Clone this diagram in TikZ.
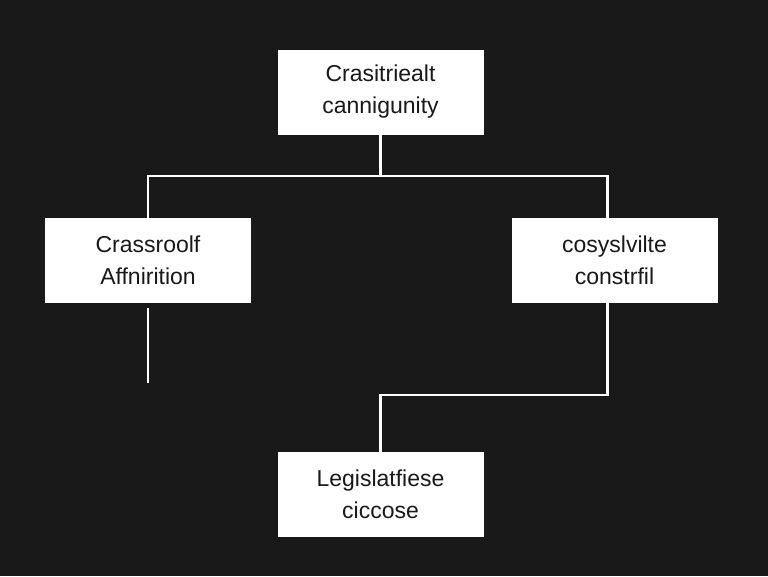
\documentclass[tikz,border=0pt]{standalone}
\usepackage{fontspec}
\setmainfont{Liberation Sans}
\usetikzlibrary{positioning}
\tikzset{
  box/.style={rectangle, draw=white, fill=white, text=black!90, minimum width=205pt, minimum height=84pt, align=center, font=\fontsize{23}{32}\selectfont},
  link/.style={draw=white, line width=2.2pt}
}
\begin{document}
\begin{tikzpicture}[x=1pt, y=-1pt]
	\fill[black!90] (0,0) rectangle (768,576);
	\useasboundingbox (0,0) rectangle (768,576);
	\node (top) [box] at (380.5,92) {Crasitriealt\\cannigunity};
	\node (left) [box] at (148,260) {Crassroolf\\Affnirition};
	\node (right) [box] at (614.5,260) {cosyslvilte\\constrfil};
	\node (bottom) [box] at (380.5,494.5) {Legislatfiese\\ciccose};
	\coordinate (leftend) at (148,383);

	\draw[link] (top.south) -- ++(0,42) -| ([xshift=-7pt]right.north);
	\draw[link] (top.south) ++(0,42) -| (left.north);
	\draw[link] ([yshift=-6pt]left.south) -- (leftend);
	\draw[link] ([xshift=-7pt]right.south) |- (380.5,395) -- ([yshift=-7pt]bottom.north);
\end{tikzpicture}
\end{document}
